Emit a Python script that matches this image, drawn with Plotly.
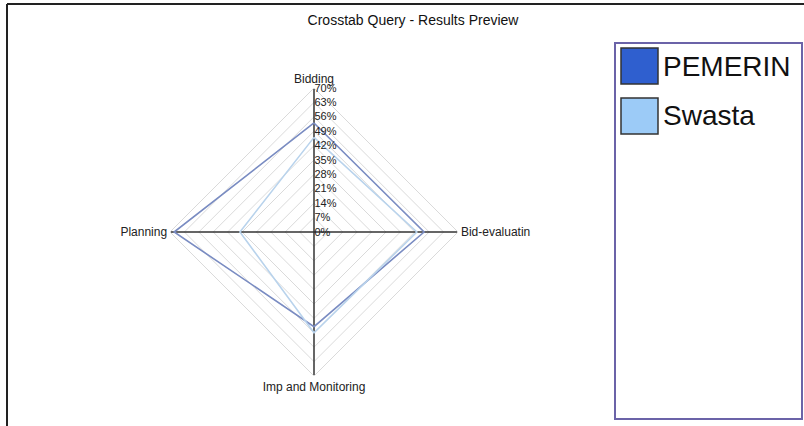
import plotly.graph_objects as go

# Crosstab results: share of responses per project stage
stages = ["Bidding", "Bid-evaluatin", "Imp and Monitoring", "Planning"]
series_names = ["PEMERIN", "Swasta"]
pemerin_values = [53, 53.5, 46, 68]
swasta_values = [46, 50, 49, 36]
radial_ticks = [0, 7, 14, 21, 28, 35, 42, 49, 56, 63, 70]
r_max = radial_ticks[-1]

line_colors = ["#7a8cc2", "#b9d3ec"]
swatch_colors = ["#2f5fcf", "#9ccbf7"]

W, H = 804, 426


def px_x(x):
    return x / W


def px_y(y):
    return 1 - y / H


fig = go.Figure()

# dark spokes from the centre to every stage (drawn above the light rings)
for st in stages:
    fig.add_trace(go.Scatterpolar(
        r=[0, r_max], theta=[st, st], mode="lines",
        line=dict(color="#333", width=1.5), hoverinfo="skip", showlegend=False,
    ))

for name, vals, col in zip(series_names, [pemerin_values, swasta_values], line_colors):
    fig.add_trace(go.Scatterpolar(
        r=vals + vals[:1],
        theta=stages + stages[:1],
        mode="lines",
        name=name,
        line=dict(color=col, width=1.6),
        showlegend=False,
    ))

fig.update_layout(
    width=W, height=H,
    margin=dict(l=0, r=0, t=0, b=0),
    paper_bgcolor="white",
    font=dict(family="Liberation Sans, Arial, sans-serif", color="#222"),
    title=dict(text="Crosstab Query - Results Preview", x=px_x(413), xanchor="center",
               y=px_y(20), yanchor="middle", font=dict(size=14, color="#111")),
    polar=dict(
        domain=dict(x=[px_x(170), px_x(458)], y=[px_y(376), px_y(88)]),
        bgcolor="white",
        gridshape="linear",
        radialaxis=dict(
            range=[0, r_max], tickvals=radial_ticks,
            ticktext=[f"{v}%" for v in radial_ticks],
            angle=90, tickangle=90, side="clockwise",
            showline=False,
            gridcolor="#dadada", gridwidth=1,
            ticks="", tickfont=dict(size=11, color="#222"),
        ),
        angularaxis=dict(
            categoryorder="array", categoryarray=stages,
            direction="clockwise", rotation=90,
            showline=True, linecolor="#dadada", linewidth=1,
            showgrid=False,
            ticks="", tickfont=dict(size=12, color="#222"),
        ),
    ),
)

# outer frame: top and left edges
fig.add_shape(type="line", xref="paper", yref="paper", x0=px_x(7), y0=px_y(4), x1=1, y1=px_y(4),
              line=dict(color="#222", width=2))
fig.add_shape(type="line", xref="paper", yref="paper", x0=px_x(7), y0=px_y(4), x1=px_x(7), y1=0,
              line=dict(color="#222", width=2))

# legend panel
fig.add_shape(type="rect", xref="paper", yref="paper", x0=px_x(615), x1=px_x(802),
              y0=px_y(419), y1=px_y(43), line=dict(color="#6b63a8", width=2))
for i, (name, col) in enumerate(zip(series_names, swatch_colors)):
    top = 48 + i * 50
    fig.add_shape(type="rect", xref="paper", yref="paper", x0=px_x(621), x1=px_x(658),
                  y0=px_y(top + 36), y1=px_y(top), fillcolor=col,
                  line=dict(color="#333", width=1.5))
    fig.add_annotation(text=name, xref="paper", yref="paper", x=px_x(661), y=px_y(top + 18),
                       xanchor="left", yanchor="middle", showarrow=False,
                       font=dict(size=28, color="#111"))

fig.write_html("out.html")
